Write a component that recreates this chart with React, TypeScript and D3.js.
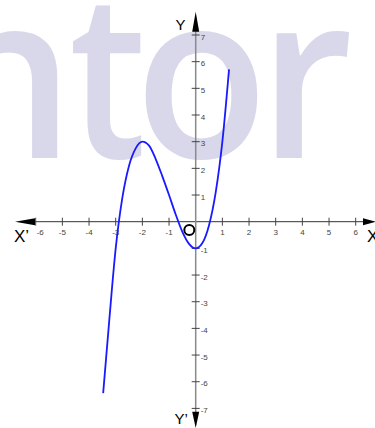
import React from "react";
import * as d3 from "d3";

const xTickValues = [-6, -5, -4, -3, -2, -1, 1, 2, 3, 4, 5, 6];
const yTickValues = [-7, -6, -5, -4, -3, -2, -1, 1, 2, 3, 4, 5, 6, 7];
const curveX = [-3.47, -3.25, -3, -2.75, -2.5, -2.25, -2, -1.75, -1.5, -1.25, -1, -0.75, -0.5, -0.25, 0, 0.25, 0.5, 0.75, 1, 1.25];
const curveY = [-6.43, -3.8, -1.0, 0.9, 2.1, 2.75, 3.0, 2.85, 2.35, 1.7, 1.0, 0.27, -0.38, -0.83, -1.0, -0.8, -0.13, 1.1, 3.0, 5.71];
const watermark = ["n", "t", "o", "r"];

const W = 375;
const H = 428;

export default function App() {
  const x = d3.scaleLinear().domain([-6, 6]).range([35.7, 355.7]);
  const y = d3.scaleLinear().domain([-7, 7]).range([408.4, 35.0]);
  const x0 = x(0);
  const y0 = y(0);
  const pts: [number, number][] = curveX.map((v, i) => [v, curveY[i]]);
  const line = d3
    .line<[number, number]>()
    .x((d) => x(d[0]))
    .y((d) => y(d[1]))
    .curve(d3.curveMonotoneX);
  const wmX = [5, 108, 201.5, 306];
  const wmS = [0.95, 0.85, 0.95, 0.95];
  return (
    <svg
      width={W}
      height={H}
      style={{ position: "fixed", left: 0, top: 0, background: "#fff" }}
      fontFamily="'Liberation Sans', Arial, sans-serif"
    >
      <rect x={0} y={0} width={W} height={H} fill="#fff" />
      {watermark.map((c, i) => (
        <g key={c} transform={`translate(${wmX[i]},158) scale(${wmS[i]},1)`}>
          <text
            x={0}
            y={0}
            textAnchor="middle"
            fontFamily="'Open Sans', sans-serif"
            fontWeight={600}
            fontSize={230}
            fill="#d8d8ea"
          >
            {c}
          </text>
        </g>
      ))}
      {/* X axis */}
      <line x1={30} x2={368} y1={y0} y2={y0} stroke="#333" strokeWidth={1} />
      <path d={`M15,${y0} L35,${y0 - 3.5} L35,${y0 + 3.5} Z`} fill="#000" />
      <path d={`M376,${y0} L363,${y0 - 3.5} L363,${y0 + 3.5} Z`} fill="#000" />
      {/* Y axis */}
      <line x1={x0} x2={x0} y1={25} y2={420} stroke="#8a8a8a" strokeWidth={1.5} />
      <path d={`M${x0},11.7 L${x0 - 3.5},31.7 L${x0 + 3.5},31.7 Z`} fill="#000" />
      <path d={`M${x0},428 L${x0 - 3.5},411.7 L${x0 + 3.5},411.7 Z`} fill="#000" />
      {xTickValues.map((v) => (
        <g key={"xt" + v}>
          <line x1={x(v)} x2={x(v)} y1={y0 - 4} y2={y0 + 4} stroke="#444" strokeWidth={1} />
          <text
            x={x(v) + (v === -6 ? 1 : 0)}
            y={y0 + 13.5}
            textAnchor={v === -6 ? "start" : "middle"}
            fontSize={8}
            fill="#444"
          >
            {v}
          </text>
        </g>
      ))}
      {yTickValues.map((v) => (
        <g key={"yt" + v}>
          <line x1={x0 - 4} x2={x0 + 4} y1={y(v)} y2={y(v)} stroke="#444" strokeWidth={1} />
          <text x={x0 + 5} y={y(v) + 4.5} fontSize={8} fill="#444">
            {v}
          </text>
        </g>
      ))}
      <path d={line(pts) || ""} fill="none" stroke="#1a1aff" strokeWidth={1.8} />
      <circle cx={189.3} cy={230} r={5} fill="none" stroke="#000" strokeWidth={2} />
      <text x={14} y={242} fontSize={17} fill="#000">X’</text>
      <text x={367} y={242} fontSize={17} fill="#000">X</text>
      <text x={175.5} y={30} fontSize={15} fill="#000">Y</text>
      <text x={174.5} y={424} fontSize={15} fill="#000">Y’</text>
    </svg>
  );
}
